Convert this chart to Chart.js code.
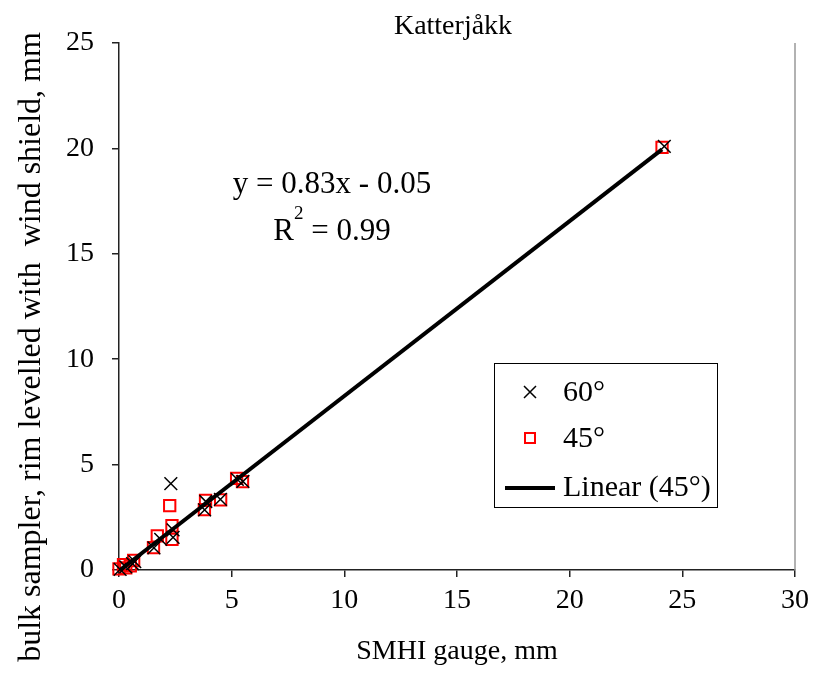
<!DOCTYPE html>
<html lang="sv">
<head>
  <meta charset="UTF-8">
  <title>Katterjåkk</title>
  <script src="https://cdn.jsdelivr.net/npm/chart.js"></script>
  <style>
    html, body { margin: 0; padding: 0; background: #fff; }
    #wrap { width: 814px; height: 694px; }
  </style>
</head>
<body>
  <div id="wrap"><canvas id="c" width="814" height="694"></canvas></div>

  <script>
    // values (mm)
    const x60 = [0.05, 0.3, 0.6, 0.7, 1.55, 1.85, 2.4, 2.4, 2.3, 3.8, 3.85, 4.5, 5.25, 5.5, 24.2];
    const y60 = [0.03, 0.15, 0.3, 0.4, 1.05, 1.45, 1.55, 1.9, 4.1, 2.85, 3.25, 3.35, 4.3, 4.2, 20.1];
    const x45 = [0.0, 0.2, 0.3, 0.5, 0.65, 1.53, 1.7, 2.35, 2.35, 2.25, 3.79, 3.84, 4.51, 5.22, 5.48, 24.1];
    const y45 = [0.05, 0.25, 0.1, 0.2, 0.45, 1.06, 1.62, 2.1, 1.45, 3.05, 2.86, 3.3, 3.33, 4.35, 4.19, 20.05];
    const trendX = [0.05, 24.1];
    const trendY = [0.0, 19.95];
    const xTicks = [0, 5, 10, 15, 20, 25, 30];
    const yTicks = [0, 5, 10, 15, 20, 25];

    const font = "'Liberation Serif', 'Times New Roman', serif";
    const pts = (xs, ys) => xs.map((v, i) => ({ x: v, y: ys[i] }));

    const extras = {
      id: 'extras',
      afterDraw(chart) {
        const ctx = chart.ctx, a = chart.chartArea;
        ctx.save();
        // right edge of plot
        ctx.strokeStyle = '#999';
        ctx.lineWidth = 1.5;
        ctx.beginPath();
        ctx.moveTo(a.right, a.top);
        ctx.lineTo(a.right, a.bottom);
        ctx.stroke();

        ctx.fillStyle = '#000';
        ctx.textAlign = 'center';
        ctx.textBaseline = 'middle';
        ctx.font = '28px ' + font;
        ctx.fillText('Katterjåkk', 453, 27);
        ctx.fillText('SMHI gauge, mm', 457, 652);

        ctx.save();
        ctx.font = '32px ' + font;
        ctx.translate(32, 347);
        ctx.rotate(-Math.PI / 2);
        ctx.fillText('bulk sampler, rim levelled with  wind shield, mm', 0, 0);
        ctx.restore();

        // equation
        ctx.font = '31px ' + font;
        ctx.fillText('y = 0.83x - 0.05', 332, 185);
        const wR = ctx.measureText('R').width, wRest = ctx.measureText(' = 0.99').width;
        ctx.font = '19px ' + font;
        const w2 = ctx.measureText('2').width;
        let x0 = 332 - (wR + w2 + wRest) / 2;
        ctx.textAlign = 'left';
        ctx.font = '31px ' + font;
        ctx.fillText('R', x0, 232);
        ctx.font = '19px ' + font;
        ctx.fillText('2', x0 + wR, 214);
        ctx.font = '31px ' + font;
        ctx.fillText(' = 0.99', x0 + wR + w2, 232);

        // legend
        ctx.strokeStyle = '#000';
        ctx.lineWidth = 1;
        ctx.strokeRect(494.5, 363.5, 223, 144);
        ctx.lineWidth = 1.5;
        ctx.beginPath();
        ctx.moveTo(524, 386); ctx.lineTo(536, 398);
        ctx.moveTo(536, 386); ctx.lineTo(524, 398);
        ctx.stroke();
        ctx.strokeStyle = '#f00';
        ctx.lineWidth = 2;
        ctx.strokeRect(525, 433, 10, 10);
        ctx.strokeStyle = '#000';
        ctx.lineWidth = 4;
        ctx.beginPath();
        ctx.moveTo(505, 488); ctx.lineTo(555, 488);
        ctx.stroke();
        ctx.fillStyle = '#000';
        ctx.font = '30px ' + font;
        ctx.fillText('60°', 563, 393);
        ctx.fillText('45°', 563, 439);
        ctx.fillText('Linear (45°)', 563, 488);
        ctx.restore();
      }
    };

    new Chart(document.getElementById('c'), {
      type: 'scatter',
      data: {
        datasets: [
          {
            label: 'Linear (45°)', type: 'line', data: pts(trendX, trendY),
            borderColor: '#000', borderWidth: 4, pointRadius: 0, order: 0, clip: false
          },
          {
            label: '60°', data: pts(x60, y60), pointStyle: 'crossRot', pointRadius: 9,
            borderColor: '#000', borderWidth: 1.5, order: 1, clip: false
          },
          {
            label: '45°', data: pts(x45, y45), pointStyle: 'rect', pointRadius: 8,
            borderColor: '#f00', backgroundColor: 'rgba(0,0,0,0)', borderWidth: 2, order: 2, clip: false
          }
        ]
      },
      options: {
        responsive: false,
        animation: false,
        layout: { padding: { top: 43, right: 19, left: 0, bottom: 0 } },
        plugins: { legend: { display: false }, title: { display: false }, tooltip: { enabled: false } },
        scales: {
          x: {
            type: 'linear', min: 0, max: 30,
            afterBuildTicks: s => { s.ticks = xTicks.map(v => ({ value: v })); },
            afterFit: s => { s.height = 124; s.paddingLeft = 0; s.paddingRight = 0; },
            border: { color: '#222', width: 1.5 },
            grid: { drawOnChartArea: false, tickLength: 7, color: '#222', lineWidth: 1.5 },
            ticks: { color: '#000', font: { family: font, size: 28 }, padding: 7, maxRotation: 0 }
          },
          y: {
            type: 'linear', min: 0, max: 25,
            afterBuildTicks: s => { s.ticks = yTicks.map(v => ({ value: v })); },
            afterFit: s => { s.width = 119; s.paddingTop = 0; s.paddingBottom = 0; },
            border: { color: '#222', width: 1.5 },
            grid: { drawOnChartArea: false, tickLength: 7, color: '#222', lineWidth: 1.5 },
            ticks: { color: '#000', font: { family: font, size: 28 }, padding: 18 }
          }
        }
      },
      plugins: [extras]
    });
  </script>
</body>
</html>
